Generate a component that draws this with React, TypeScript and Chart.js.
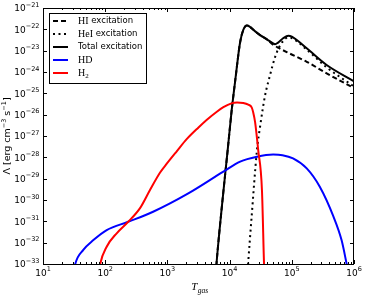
import React, { useEffect, useRef } from 'react';
import { Chart, registerables } from 'chart.js';

Chart.register(...registerables);

// Axis ranges (data units)
const xMin = 1e1;
const xMax = 1e6;
const yMin = 1e-33;
const yMax = 1e-21;

// Tick exponents (labels are 10^exp)
const xTickExponents = [1, 2, 3, 4, 5, 6];
const yTickExponents = [-33, -32, -31, -30, -29, -28, -27, -26, -25, -24, -23, -22, -21];

// Series as log10 values
const hiLogT = [3.75, 3.789, 3.878, 3.969, 4.034, 4.098, 4.167, 4.22, 4.275, 4.3, 4.4, 4.49, 4.6, 4.7, 4.78, 4.97, 5.24, 5.56, 6.02];
const hiLogL = [-34.6, -33.0, -30.24, -27.66, -25.78, -24.22, -22.64, -22.03, -21.82, -21.83, -22.07, -22.27, -22.47, -22.72, -22.86, -23.14, -23.52, -24.06, -24.79];

const heiLogT = [4.28, 4.3, 4.35, 4.44, 4.49, 4.57, 4.65, 4.72, 4.78, 4.86, 4.94, 5.0, 5.24, 5.56, 6.02];
const heiLogL = [-33.8, -32.9, -30.94, -27.66, -26.56, -25.1, -24.15, -23.4, -22.93, -22.55, -22.38, -22.41, -22.95, -23.78, -24.72];

const totalLogT = [3.75, 3.789, 3.878, 3.969, 4.034, 4.098, 4.167, 4.22, 4.275, 4.3, 4.4, 4.49, 4.6, 4.7, 4.73, 4.78, 4.86, 4.944, 5.0, 5.24, 5.56, 6.02];
const totalLogL = [-34.6, -33.0, -30.24, -27.66, -25.78, -24.22, -22.64, -22.03, -21.82, -21.83, -22.07, -22.27, -22.47, -22.66, -22.7, -22.62, -22.42, -22.3, -22.34, -22.89, -23.67, -24.47];

const hdLogT = [1.45, 1.514, 1.648, 1.81, 2.024, 2.37, 2.77, 3.336, 3.9, 4.17, 4.44, 4.7, 4.85, 5.02, 5.24, 5.45, 5.67, 5.8, 5.88, 5.93];
const hdLogL = [-34.2, -33.05, -32.34, -31.88, -31.41, -31.02, -30.55, -29.69, -28.67, -28.2, -27.97, -27.87, -27.9, -28.05, -28.52, -29.38, -30.78, -31.88, -32.97, -33.7];

const h2LogT = [1.85, 1.916, 2.024, 2.185, 2.37, 2.56, 2.72, 2.88, 2.99, 3.15, 3.31, 3.5, 3.63, 3.8, 3.9, 4.03, 4.12, 4.22, 4.3, 4.355, 4.38, 4.41, 4.46, 4.52, 4.553, 4.57];
const h2LogL = [-34.5, -33.05, -32.19, -31.56, -31.02, -30.38, -29.53, -28.72, -28.3, -27.72, -27.15, -26.6, -26.25, -25.85, -25.65, -25.47, -25.43, -25.45, -25.53, -25.66, -25.9, -26.35, -27.66, -29.53, -32.97, -34.5];

const seriesLabels = ['HI excitation', 'HeI excitation', 'Total excitation', 'HD', 'H₂'];
const seriesColors = ['#000000', '#000000', '#000000', '#0000ff', '#ff0000'];

const xTitle = 'T';
const xTitleSub = 'gas';

const SANS = '"DejaVu Sans", sans-serif';
const SERIF = '"Liberation Serif", "DejaVu Serif", serif';

function toPoints(logT: number[], logL: number[]) {
  return logT.map((t, i) => ({ x: Math.pow(10, t), y: Math.pow(10, logL[i]) }));
}

function expText(e: number) {
  return e < 0 ? '\u2212' + String(-e) : String(e);
}

// Legend label parts: [text, isSerif, isSubscript]
const legendParts: Record<string, [string, boolean, boolean][]> = {
  'HI excitation': [['HI', true, false], [' excitation', false, false]],
  'HeI excitation': [['HeI', true, false], [' excitation', false, false]],
  'Total excitation': [['Total excitation', false, false]],
  'HD': [['HD', true, false]],
  'H₂': [['H', true, false], ['2', true, true]],
};

const axesPlugin = {
  id: 'mplAxes',
  afterDraw(chart: any) {
    const ctx: CanvasRenderingContext2D = chart.ctx;
    const { left, right, top, bottom } = chart.chartArea;
    const xs = chart.scales.x;
    const ys = chart.scales.y;
    ctx.save();
    ctx.strokeStyle = '#000';
    ctx.lineWidth = 1;
    ctx.setLineDash([]);

    // frame
    ctx.strokeRect(Math.round(left) + 0.5, Math.round(top) + 0.5, Math.round(right - left) - 1, Math.round(bottom - top));

    // x ticks
    ctx.beginPath();
    for (let d = 1; d <= 6; d++) {
      for (let k = 1; k <= 9; k++) {
        const v = k * Math.pow(10, d);
        if (v < xMin || v > xMax) continue;
        const px = Math.round(xs.getPixelForValue(v)) + 0.5;
        const len = k === 1 ? 4 : 2;
        ctx.moveTo(px, bottom);
        ctx.lineTo(px, bottom - len);
        ctx.moveTo(px, top);
        ctx.lineTo(px, top + len);
      }
    }
    // y ticks
    for (const e of yTickExponents) {
      const py = Math.round(ys.getPixelForValue(Math.pow(10, e))) + 0.5;
      ctx.moveTo(left, py);
      ctx.lineTo(left + 4, py);
      ctx.moveTo(right, py);
      ctx.lineTo(right - 4, py);
    }
    ctx.stroke();

    ctx.fillStyle = '#000';
    ctx.textBaseline = 'middle';
    const baseFont = '9px ' + SANS;
    const supFont = '6.5px ' + SANS;

    // x tick labels
    for (const e of xTickExponents) {
      const px = xs.getPixelForValue(Math.pow(10, e));
      ctx.font = baseFont;
      const w1 = ctx.measureText('10').width;
      ctx.font = supFont;
      const w2 = ctx.measureText(expText(e)).width;
      const x0 = px - (w1 + w2) / 2;
      ctx.textAlign = 'left';
      ctx.font = baseFont;
      ctx.fillText('10', x0, bottom + 9.5);
      ctx.font = supFont;
      ctx.fillText(expText(e), x0 + w1, bottom + 5);
    }

    // y tick labels
    for (const e of yTickExponents) {
      const py = ys.getPixelForValue(Math.pow(10, e));
      ctx.font = supFont;
      const w2 = ctx.measureText(expText(e)).width;
      const xr = left - 3.5;
      ctx.textAlign = 'right';
      ctx.fillText(expText(e), xr, py - 3);
      ctx.font = baseFont;
      ctx.fillText('10', xr - w2, py + 1);
    }

    // x title: T_gas
    {
      const tFont = 'italic 11px ' + SERIF;
      const sFont = 'italic 7.5px ' + SERIF;
      ctx.font = tFont;
      const w1 = ctx.measureText(xTitle).width;
      ctx.font = sFont;
      const w2 = ctx.measureText(xTitleSub).width;
      const cx = (left + right) / 2 + 1;
      const x0 = cx - (w1 + w2) / 2;
      ctx.textAlign = 'left';
      ctx.textBaseline = 'alphabetic';
      ctx.font = tFont;
      ctx.fillText(xTitle, x0, 290);
      ctx.font = sFont;
      ctx.fillText(xTitleSub, x0 + w1 + 0.5, 292.5);
    }

    // y title: Λ [erg cm^-3 s^-1]
    {
      const parts: [string, boolean][] = [
        ['\u039b [erg cm', false],
        ['\u22123', true],
        [' s', false],
        ['\u22121', true],
        [']', false],
      ];
      const nf = '9.5px ' + SANS;
      const sf = '6.5px ' + SANS;
      let total = 0;
      const widths = parts.map(([t, sup]) => {
        ctx.font = sup ? sf : nf;
        const w = ctx.measureText(t).width;
        total += w;
        return w;
      });
      ctx.translate(8, (top + bottom) / 2);
      ctx.rotate(-Math.PI / 2);
      let x = -total / 2;
      ctx.textAlign = 'left';
      ctx.textBaseline = 'middle';
      parts.forEach(([t, sup], i) => {
        ctx.font = sup ? sf : nf;
        ctx.fillText(t, x, sup ? -3.5 : 0);
        x += widths[i];
      });
      ctx.setTransform(1, 0, 0, 1, 0, 0);
    }

    // legend
    {
      const bx = 49.5, by = 13.5, bw = 97, bh = 70;
      ctx.fillStyle = '#fff';
      ctx.fillRect(bx, by, bw, bh);
      ctx.strokeStyle = '#000';
      ctx.lineWidth = 1;
      ctx.strokeRect(bx, by, bw, bh);
      const rowY0 = 21;
      const rowH = 13;
      chart.data.datasets.forEach((ds: any, i: number) => {
        const y = rowY0 + i * rowH;
        ctx.save();
        ctx.strokeStyle = ds.borderColor;
        ctx.lineWidth = ds.borderWidth;
        ctx.setLineDash(ds.borderDash || []);
        ctx.beginPath();
        ctx.moveTo(53, y);
        ctx.lineTo(68, y);
        ctx.stroke();
        ctx.restore();
        const parts = legendParts[ds.label] || [[ds.label, false, false]];
        let x = 78;
        ctx.fillStyle = '#000';
        ctx.textAlign = 'left';
        ctx.textBaseline = 'middle';
        for (const [t, serif, sub] of parts) {
          ctx.font = serif ? (sub ? '7px ' + SERIF : '10px ' + SERIF) : '8.5px ' + SANS;
          ctx.fillText(t, x, sub ? y + 3 : y);
          x += ctx.measureText(t).width;
        }
      });
    }
    ctx.restore();
  },
};

export default function App() {
  const ref = useRef<HTMLCanvasElement | null>(null);
  useEffect(() => {
    document.body.style.margin = '0';
    const canvas = ref.current;
    if (!canvas) return;
    const dashes = [[5, 3], [2, 3.5], [], [], []];
    const sources = [
      [hiLogT, hiLogL],
      [heiLogT, heiLogL],
      [totalLogT, totalLogL],
      [hdLogT, hdLogL],
      [h2LogT, h2LogL],
    ];
    const drawOrder = [4, 3, 2, 1, 0];
    const datasets = sources.map(([t, l], i) => ({
      label: seriesLabels[i],
      data: toPoints(t, l),
      borderColor: seriesColors[i],
      backgroundColor: seriesColors[i],
      borderWidth: 2,
      borderDash: dashes[i],
      pointRadius: 0,
      fill: false,
      cubicInterpolationMode: 'monotone' as const,
      order: drawOrder[i],
    }));
    const chart = new Chart(canvas, {
      type: 'line',
      data: { datasets },
      options: {
        animation: false,
        responsive: false,
        devicePixelRatio: 1,
        layout: { padding: { left: 43, right: 13, top: 8, bottom: 32 } },
        scales: {
          x: { type: 'logarithmic', min: xMin, max: xMax, display: false },
          y: { type: 'logarithmic', min: yMin, max: yMax, display: false },
        },
        plugins: { legend: { display: false }, tooltip: { enabled: false } },
      },
      plugins: [axesPlugin],
    } as any);
    return () => chart.destroy();
  }, []);
  return (
    <div style={{ position: 'absolute', left: 0, top: 0, width: 367, height: 296, background: '#fff' }}>
      <canvas ref={ref} width={367} height={296} style={{ width: 367, height: 296, display: 'block' }} />
    </div>
  );
}
